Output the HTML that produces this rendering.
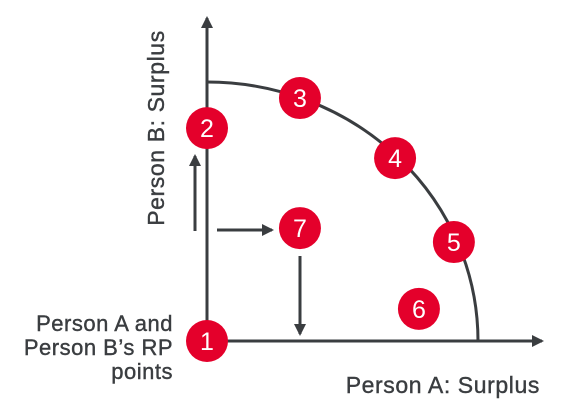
<!DOCTYPE html>
<html><head><meta charset="utf-8"><style>
html,body{margin:0;padding:0;background:#fff;width:565px;height:408px;overflow:hidden}
text{font-family:"Liberation Sans","DejaVu Sans",sans-serif}
</style></head><body>
<svg id="chart" width="565" height="408" viewBox="0 0 565 408" xmlns="http://www.w3.org/2000/svg">
<defs><marker id="ah2" markerWidth="12" markerHeight="12" refX="10" refY="6" orient="auto" markerUnits="userSpaceOnUse"><path d="M0,0 L12,6 L0,12 Z" fill="#3a3d40"/></marker></defs>
<line x1="207" y1="341" x2="207" y2="18" stroke="#3a3d40" stroke-width="3" marker-end="url(#ah2)"/>
<line x1="207" y1="341" x2="542" y2="341" stroke="#3a3d40" stroke-width="3" marker-end="url(#ah2)"/>
<path d="M207,82 A271,259 0 0 1 478,341" fill="none" stroke="#3a3d40" stroke-width="3"/>
<line x1="195" y1="231" x2="195" y2="156" stroke="#3a3d40" stroke-width="3" marker-end="url(#ah2)"/>
<line x1="217" y1="230" x2="272" y2="230" stroke="#3a3d40" stroke-width="3" marker-end="url(#ah2)"/>
<line x1="300" y1="256" x2="300" y2="334" stroke="#3a3d40" stroke-width="3" marker-end="url(#ah2)"/>
<text transform="translate(164,128) rotate(-90)" text-anchor="middle" font-size="23" letter-spacing="0.6" fill="#3a3d40" stroke="#3a3d40" stroke-width="0.4">Person B: Surplus</text>
<text x="540" y="393" text-anchor="end" font-size="23" letter-spacing="0.6" fill="#3a3d40" stroke="#3a3d40" stroke-width="0.4">Person A: Surplus</text>
<text text-anchor="end" font-size="22" letter-spacing="0.5" fill="#3a3d40" stroke="#3a3d40" stroke-width="0.4"><tspan x="173" y="331">Person A and</tspan><tspan x="173" y="355">Person B’s RP</tspan><tspan x="173" y="379">points</tspan></text>
<g id="pts"></g>
</svg>
<script>
const labels=["1","2","3","4","5","6","7"];
const xs=[0,0,0.343,0.694,0.911,0.782,0.343];
const ys=[0,0.822,0.938,0.706,0.382,0.124,0.436];
const X=v=>207+v*271, Y=v=>341-v*259;
const g=document.getElementById('pts'), NS='http://www.w3.org/2000/svg';
labels.forEach((l,i)=>{
 const c=document.createElementNS(NS,'circle');
 
 
 c.setAttribute('cx',X(xs[i]));c.setAttribute('cy',Y(ys[i]));c.setAttribute('r',21);c.setAttribute('fill','#e4002b');
 g.appendChild(c);
 const t=document.createElementNS(NS,'text');
 
 
 t.setAttribute('x',X(xs[i]));t.setAttribute('y',Y(ys[i])+9);t.setAttribute('text-anchor','middle');t.setAttribute('font-size','25');t.setAttribute('fill','#fff');
 t.textContent=l;g.appendChild(t);
});
</script>
</body></html>
